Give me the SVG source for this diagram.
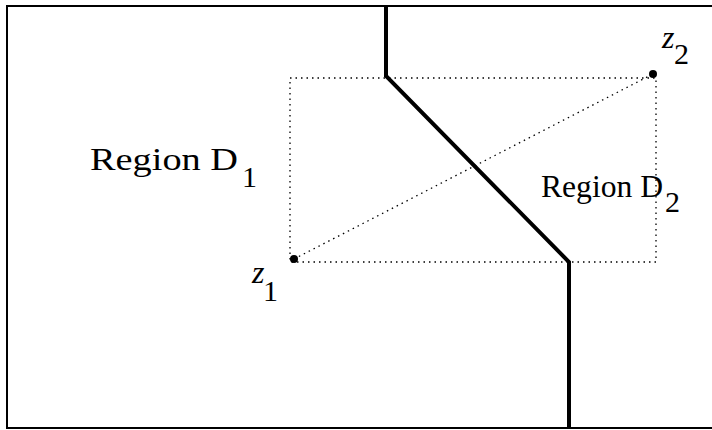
<svg xmlns="http://www.w3.org/2000/svg" width="712" height="430" viewBox="0 0 712 430">
<style>
.frame{fill:none;stroke:#000;stroke-width:2}
.thick{fill:none;stroke:#000;stroke-width:4;stroke-linejoin:miter}
.dot{fill:none;stroke:#000;stroke-width:1.3;stroke-dasharray:1.5 4}
.lbl{font-family:"Liberation Serif","Times New Roman",serif;font-size:31px;fill:#000}
.it{font-style:italic;font-size:32px}
.sub{font-size:30px}
</style>
<rect width="712" height="430" fill="#fff"/>
<g id="frame">
<path class="frame" d="M712,6 H7 V428 H712"/>
</g>
<g id="connectors">
<path id="boundary" class="thick" d="M386,6 V76 L569,262 V428"/>
<rect id="box" class="dot" x="290" y="78" width="366" height="184"/>
<line id="segment" class="dot" x1="294" y1="259" x2="653" y2="74"/>
</g>
<g id="z1">
<circle cx="294" cy="259" r="4" fill="#000"/>
<text class="lbl it" x="252" y="283">z</text>
<text class="lbl sub" x="263" y="301">1</text>
</g>
<g id="z2">
<circle cx="653" cy="74" r="4" fill="#000"/>
<text class="lbl it" x="662" y="48">z</text>
<text class="lbl sub" x="674" y="64">2</text>
</g>
<g id="regionD1">
<text class="lbl" x="90" y="170" textLength="148" lengthAdjust="spacingAndGlyphs">Region D</text>
<text class="lbl sub" x="242" y="187">1</text>
</g>
<g id="regionD2">
<text class="lbl" x="541" y="197" textLength="122" lengthAdjust="spacingAndGlyphs">Region D</text>
<text class="lbl sub" x="665" y="212">2</text>
</g>
</svg>
